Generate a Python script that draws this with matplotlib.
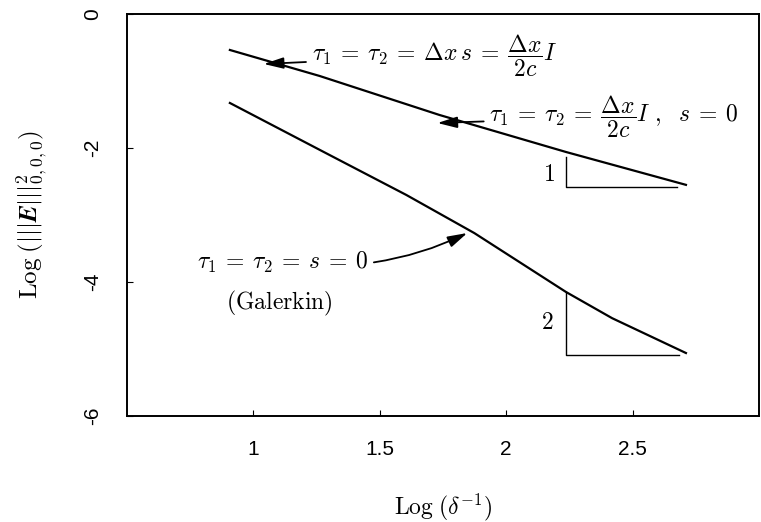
import matplotlib
matplotlib.use("Agg")
import matplotlib.pyplot as plt

plt.rcParams['mathtext.fontset'] = 'cm'
plt.rcParams['font.family'] = ['Liberation Sans', 'DejaVu Sans']

# error curves, log-log
x_stab = [0.907, 1.262, 1.736, 2.237, 2.711]
y_stab = [-0.537, -0.925, -1.507, -2.06, -2.55]

x_gal = [0.907, 1.301, 1.605, 1.874, 2.237, 2.419, 2.711]
y_gal = [-1.328, -2.104, -2.701, -3.27, -4.15, -4.54, -5.06]

# slope triangles
tri1_x = [2.237, 2.237, 2.677]
tri1_y = [-2.135, -2.58, -2.58]
tri2_x = [2.237, 2.237, 2.683]
tri2_y = [-4.15, -5.09, -5.09]

xticks = [1, 1.5, 2, 2.5]
yticks = [0, -2, -4, -6]

fig = plt.figure(figsize=(7.61, 5.22), dpi=100)
ax = fig.add_axes([127/761, 1 - 416/522, (759 - 127)/761, (416 - 14)/522])

ax.plot(x_stab, y_stab, color='black', lw=1.6)
ax.plot(x_gal, y_gal, color='black', lw=1.6)
ax.plot(tri1_x, tri1_y, color='black', lw=1.0)
ax.plot(tri2_x, tri2_y, color='black', lw=1.0)

ax.text(2.17, -2.40, '$1$', fontsize=17, ha='center', va='center')
ax.text(2.162, -4.61, '$2$', fontsize=17, ha='center', va='center')

arrow = dict(arrowstyle='-|>,head_length=0.7,head_width=0.2', color='black',
             lw=1.3, shrinkA=2, shrinkB=0)

ax.annotate(r'$\tau_1 \:=\: \tau_2 \:=\: \Delta x\, s \:=\: \dfrac{\Delta x}{2c}I$',
            xy=(1.041, -0.746), xytext=(1.23, -0.627),
            fontsize=17, ha='left', va='center', arrowprops=arrow)
ax.annotate(r'$\tau_1 \:=\: \tau_2 \:=\: \dfrac{\Delta x}{2c}I\ ,\ \ s \:=\: 0$',
            xy=(1.728, -1.627), xytext=(1.933, -1.537),
            fontsize=17, ha='left', va='center', arrowprops=arrow)
ax.annotate(r'$\tau_1 \:=\: \tau_2 \:=\: s \:=\: 0$',
            xy=(1.846, -3.269), xytext=(0.776, -3.716),
            fontsize=17, ha='left', va='center',
            arrowprops=dict(arrow, connectionstyle='arc3,rad=0.15'))
ax.text(1.104, -4.313, r'$(\mathrm{Galerkin})$', fontsize=17,
        ha='center', va='center')

ax.set_xlim(0.5, 3.0)
ax.set_ylim(-6, 0)
ax.set_xticks(xticks)
ax.set_xticklabels(['1', '1.5', '2', '2.5'])
ax.set_yticks(yticks)
ax.set_yticklabels(['0', '-2', '-4', '-6'], rotation=90, va='center')
ax.tick_params(direction='in', length=4, width=0.8, labelsize=15)
ax.tick_params(axis='x', pad=17)
ax.tick_params(axis='y', pad=18)
for sp in ax.spines.values():
    sp.set_linewidth(1.4)

ax.set_xlabel(r'$\mathrm{Log}\;(\delta^{-1})$', fontsize=17, labelpad=24)
ax.set_ylabel(r'$\mathrm{Log}\;(|||\boldsymbol{E}|||^{2}_{0,0,0})$',
              fontsize=18, labelpad=24)

fig.savefig('out.png', dpi=100)
